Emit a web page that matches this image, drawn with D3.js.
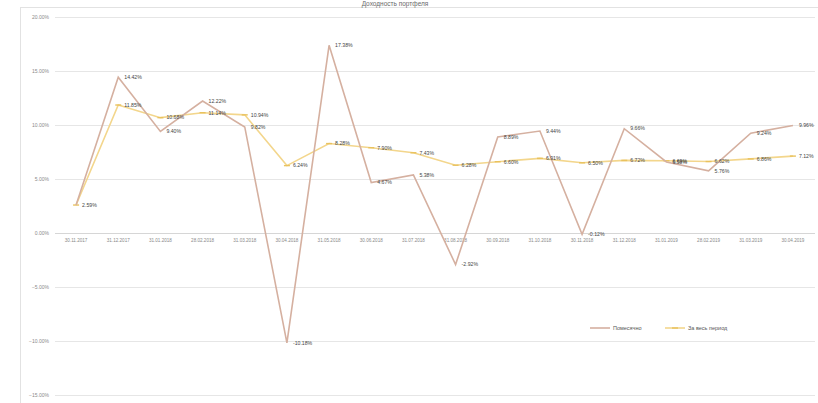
<!DOCTYPE html>
<html lang="ru">
<head>
    <meta charset="UTF-8">
    <title>Доходность</title>
    <style>
        body { margin: 0; background: #fff; }
        svg { font-family: "Liberation Sans", Arial, sans-serif; }
        .tick-y { font-size: 5px; fill: #8a8a8a; }
        .tick-x { font-size: 4.6px; fill: #8a8a8a; }
        .lbl { font-size: 5.2px; fill: #454545; }
        .leg { font-size: 5.5px; fill: #555; }
    </style>
</head>
<body>
<script src="https://cdn.jsdelivr.net/npm/d3@7/dist/d3.min.js"></script>
<script>
    // даты (конец месяца)
    var dates = ["30.11.2017", "31.12.2017", "31.01.2018", "28.02.2018", "31.03.2018", "30.04.2018",
        "31.05.2018", "30.06.2018", "31.07.2018", "31.08.2018", "30.09.2018", "31.10.2018",
        "30.11.2018", "31.12.2018", "31.01.2019", "28.02.2019", "31.03.2019", "30.04.2019"];

    // доходность помесячно, %
    var monthly = [2.59, 14.42, 9.40, 12.22, 9.82, -10.18, 17.38, 4.67, 5.38, -2.92,
        8.89, 9.44, -0.12, 9.66, 6.58, 5.76, 9.24, 9.96];

    // доходность за весь период, %
    var total = [2.59, 11.85, 10.68, 11.14, 10.94, 6.24, 8.28, 7.90, 7.43, 6.28,
        6.60, 6.91, 6.50, 6.72, 6.69, 6.62, 6.86, 7.12];

    var yTicks = [-15, -10, -5, 0, 5, 10, 15, 20];
    var seriesNames = ["Помесячно", "За весь период"];

    var width = 818, height = 403;
    var colMonthly = "#d5b0a0", colTotal = "#f3d68c";

    var svg = d3.select("body").append("svg")
        .attr("width", width)
        .attr("height", height);

    /* рамка */
    svg.append("rect")
        .attr("x", 20.5).attr("y", 7.5)
        .attr("width", 820).attr("height", 420)
        .attr("fill", "none")
        .attr("stroke", "#e2e2e2");

    /* заголовок */
    svg.append("text")
        .attr("x", 395).attr("y", 6)
        .attr("text-anchor", "middle")
        .attr("font-size", "6.5px")
        .attr("fill", "#6a6a6a")
        .text("Доходность портфеля");

    var x = d3.scalePoint().domain(dates).range([55, 814]).padding(0.5);
    var y = d3.scaleLinear().domain([-15, 20]).range([395, 17]);

    /* сетка */
    svg.selectAll(".grid")
        .data(yTicks)
        .enter()
        .append("line")
        .attr("x1", 55).attr("x2", 815)
        .attr("y1", function (d) { return Math.round(y(d)) + 0.5; })
        .attr("y2", function (d) { return Math.round(y(d)) + 0.5; })
        .attr("stroke", function (d) { return d === 0 ? "#d6d6d6" : "#e6e6e6"; })
        .attr("stroke-width", 1);

    var fmt = d3.format(".2%");
    svg.selectAll(".tick-y")
        .data(yTicks)
        .enter()
        .append("text")
        .attr("class", "tick-y")
        .attr("x", 49)
        .attr("y", function (d) { return y(d); })
        .attr("dy", "0.35em")
        .attr("text-anchor", "end")
        .text(function (d) { return fmt(d / 100); });

    svg.selectAll(".tick-x")
        .data(dates)
        .enter()
        .append("text")
        .attr("class", "tick-x")
        .attr("x", function (d) { return x(d); })
        .attr("y", y(0) + 9)
        .attr("text-anchor", "middle")
        .text(function (d) { return d; });

    var line = d3.line()
        .x(function (d, i) { return x(dates[i]); })
        .y(function (d) { return y(d); });

    /* за весь период */
    svg.append("path")
        .datum(total)
        .attr("d", line)
        .attr("fill", "none")
        .attr("stroke", colTotal)
        .attr("stroke-width", 1.6);

    svg.selectAll(".mk")
        .data(total)
        .enter()
        .append("line")
        .attr("x1", function (d, i) { return x(dates[i]) - 3; })
        .attr("x2", function (d, i) { return x(dates[i]) + 3; })
        .attr("y1", function (d) { return y(d); })
        .attr("y2", function (d) { return y(d); })
        .attr("stroke", "#e9c25e")
        .attr("stroke-width", 1.4);

    /* помесячно */
    svg.append("path")
        .datum(monthly)
        .attr("d", line)
        .attr("fill", "none")
        .attr("stroke", colMonthly)
        .attr("stroke-width", 1.6);

    /* подписи значений */
    var pct = function (d) { return d.toFixed(2) + "%"; };

    svg.selectAll(".lbl-t")
        .data(total)
        .enter()
        .append("text")
        .attr("class", "lbl")
        .attr("x", function (d, i) { return x(dates[i]) + 6; })
        .attr("y", function (d) { return y(d); })
        .attr("dy", "0.35em")
        .text(function (d, i) { return i === 0 ? "" : pct(d); });

    svg.selectAll(".lbl-m")
        .data(monthly)
        .enter()
        .append("text")
        .attr("class", "lbl")
        .attr("x", function (d, i) { return x(dates[i]) + 6; })
        .attr("y", function (d) { return y(d); })
        .attr("dy", "0.35em")
        .text(function (d) { return pct(d); });

    /* легенда */
    var legend = svg.append("g").attr("transform", "translate(590,328)");
    legend.append("line")
        .attr("x1", 0).attr("x2", 20).attr("y1", 0).attr("y2", 0)
        .attr("stroke", colMonthly).attr("stroke-width", 1.6);
    legend.append("text").attr("class", "leg")
        .attr("x", 23).attr("dy", "0.35em").text(seriesNames[0]);
    legend.append("line")
        .attr("x1", 75).attr("x2", 95).attr("y1", 0).attr("y2", 0)
        .attr("stroke", colTotal).attr("stroke-width", 1.6);
    legend.append("line")
        .attr("x1", 82).attr("x2", 88).attr("y1", 0).attr("y2", 0)
        .attr("stroke", "#e9c25e").attr("stroke-width", 1.4);
    legend.append("text").attr("class", "leg")
        .attr("x", 98).attr("dy", "0.35em").text(seriesNames[1]);
</script>
</body>
</html>
